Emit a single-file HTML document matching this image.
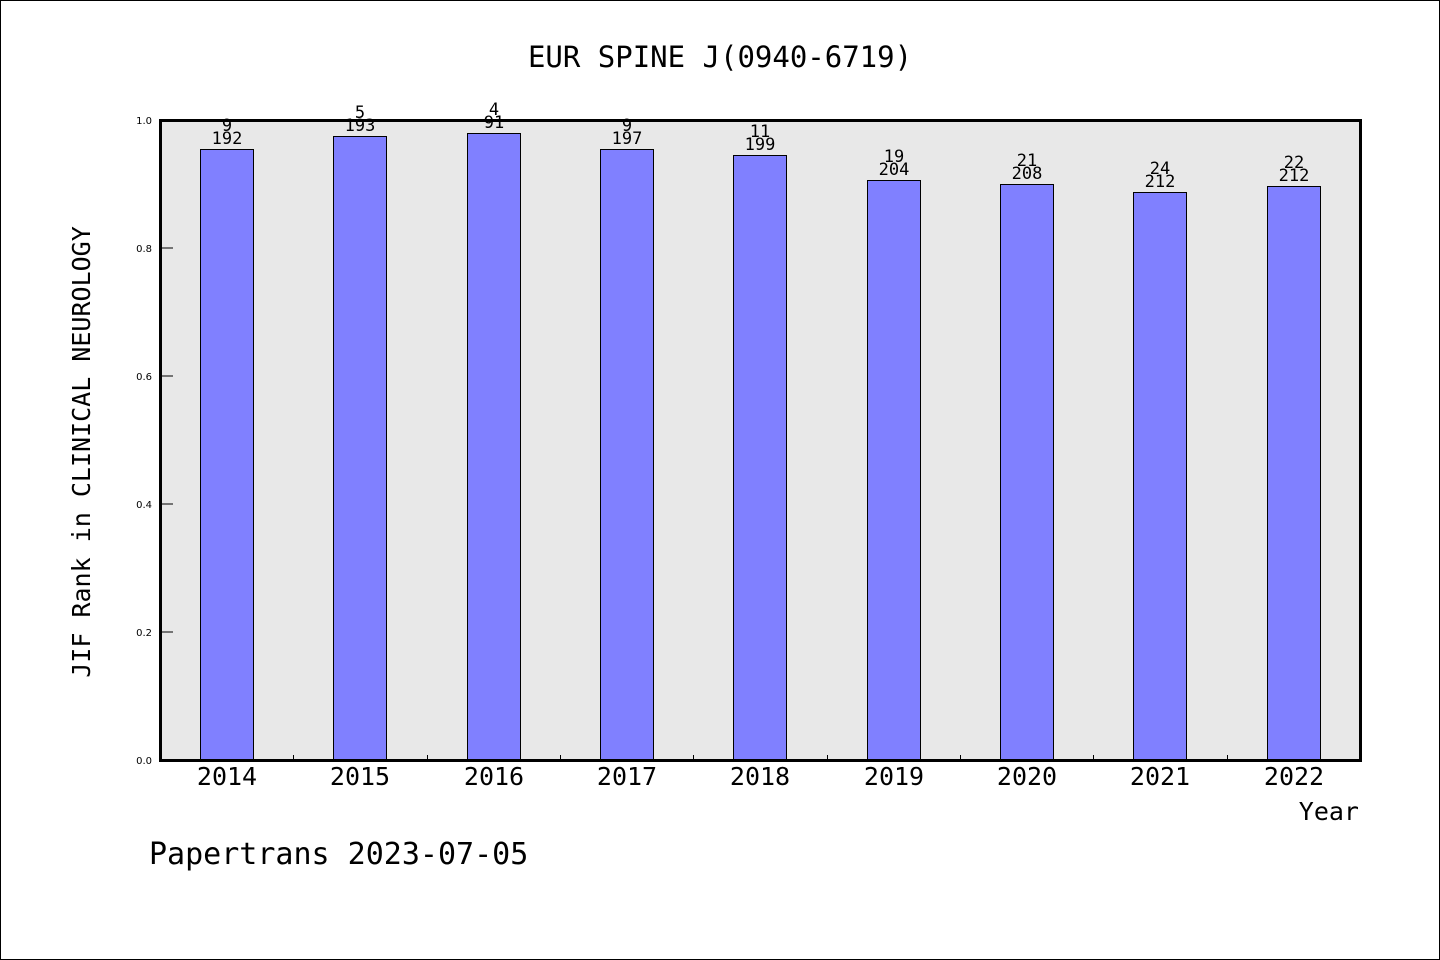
<!DOCTYPE html>
<html><head><meta charset="utf-8"><style>html,body{margin:0;padding:0;background:#fff}svg{display:block}</style></head><body>
<svg width="1440" height="960" xmlns="http://www.w3.org/2000/svg" font-family="'WenQuanYi Zen Hei','DejaVu Sans Mono',monospace">
<rect x="0.5" y="0.5" width="1439" height="959" fill="#fff" stroke="#000" stroke-width="1"/>
<text x="720" y="67" font-size="29" text-anchor="middle">EUR SPINE J(0940-6719)</text>
<rect x="161" y="120" width="1200" height="640" fill="#e8e8e8"/>
<g fill="#8080ff" stroke="#000" stroke-width="1">
<rect x="200.5" y="149.5" width="53" height="611"/>
<rect x="333.5" y="136.5" width="53" height="624"/>
<rect x="467.5" y="133.5" width="53" height="627"/>
<rect x="600.5" y="149.5" width="53" height="611"/>
<rect x="733.5" y="155.5" width="53" height="605"/>
<rect x="867.5" y="180.5" width="53" height="580"/>
<rect x="1000.5" y="184.5" width="53" height="576"/>
<rect x="1133.5" y="192.5" width="53" height="568"/>
<rect x="1267.5" y="186.5" width="53" height="574"/>
</g>
<g font-size="17" text-anchor="middle" fill="#000">
<text x="227" y="131">9</text><text x="227" y="144">192</text>
<text x="360" y="118">5</text><text x="360" y="131">193</text>
<text x="494" y="115">4</text><text x="494" y="128">91</text>
<text x="627" y="131">9</text><text x="627" y="144">197</text>
<text x="760" y="137">11</text><text x="760" y="150">199</text>
<text x="894" y="162">19</text><text x="894" y="175">204</text>
<text x="1027" y="166">21</text><text x="1027" y="179">208</text>
<text x="1160" y="174">24</text><text x="1160" y="187">212</text>
<text x="1294" y="168">22</text><text x="1294" y="181">212</text>
</g>
<g stroke="#000" stroke-width="1">
<line x1="161" y1="248" x2="173" y2="248"/><line x1="161" y1="376" x2="173" y2="376"/>
<line x1="161" y1="504" x2="173" y2="504"/><line x1="161" y1="632" x2="173" y2="632"/>
<line x1="293.5" y1="760" x2="293.5" y2="755"/><line x1="427.5" y1="760" x2="427.5" y2="755"/>
<line x1="560.5" y1="760" x2="560.5" y2="755"/><line x1="693.5" y1="760" x2="693.5" y2="755"/>
<line x1="827.5" y1="760" x2="827.5" y2="755"/><line x1="960.5" y1="760" x2="960.5" y2="755"/>
<line x1="1093.5" y1="760" x2="1093.5" y2="755"/><line x1="1227.5" y1="760" x2="1227.5" y2="755"/>
</g>
<rect x="160.5" y="120.5" width="1200" height="640" fill="none" stroke="#000" stroke-width="3"/>
<g font-size="10" text-anchor="end" font-family="'DejaVu Sans',sans-serif">
<text x="152" y="124">1.0</text><text x="152" y="252">0.8</text><text x="152" y="380">0.6</text>
<text x="152" y="508">0.4</text><text x="152" y="636">0.2</text><text x="152" y="764">0.0</text>
</g>
<g font-size="25" text-anchor="middle">
<text x="227" y="785">2014</text><text x="360" y="785">2015</text><text x="494" y="785">2016</text>
<text x="627" y="785">2017</text><text x="760" y="785">2018</text><text x="894" y="785">2019</text>
<text x="1027" y="785">2020</text><text x="1160" y="785">2021</text><text x="1294" y="785">2022</text>
</g>
<text x="1359" y="820" font-size="25" text-anchor="end">Year</text>
<text x="90" y="452" font-size="25" text-anchor="middle" transform="rotate(-90 90 452)">JIF Rank in CLINICAL NEUROLOGY</text>
<text x="149" y="864" font-size="30">Papertrans 2023-07-05</text>
</svg>
</body></html>
